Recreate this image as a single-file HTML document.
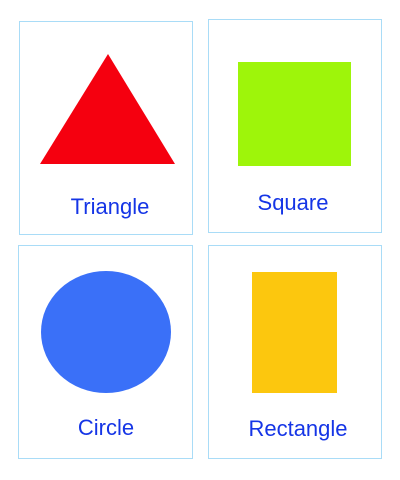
<!DOCTYPE html>
<html><head><meta charset="utf-8"><style>
html,body{margin:0;padding:0;background:#fff;width:400px;height:480px;overflow:hidden}
text{font-family:"Liberation Sans",Arial,sans-serif;font-size:22px;fill:#1535e6}
</style></head><body>
<svg width="400" height="480" viewBox="0 0 400 480">
<g>
<rect x="19.5" y="21.5" width="173" height="213" fill="#fff" stroke="#a9dcf7" stroke-width="1"/>
<polygon points="108,54 40,164 175,164" fill="#f5000f"/>
<text x="110" y="214" text-anchor="middle">Triangle</text>
</g>
<g>
<rect x="208.5" y="19.5" width="173" height="213" fill="#fff" stroke="#a9dcf7" stroke-width="1"/>
<rect x="238" y="62" width="113" height="104" fill="#9ef50a"/>
<text x="293" y="210" text-anchor="middle">Square</text>
</g>
<g>
<rect x="18.5" y="245.5" width="174" height="213" fill="#fff" stroke="#a9dcf7" stroke-width="1"/>
<ellipse cx="106" cy="332" rx="65" ry="61" fill="#3a70f8"/>
<text x="106" y="435" text-anchor="middle">Circle</text>
</g>
<g>
<rect x="208.5" y="245.5" width="173" height="213" fill="#fff" stroke="#a9dcf7" stroke-width="1"/>
<rect x="252" y="272" width="85" height="121" fill="#fcc70e"/>
<text x="298" y="436" text-anchor="middle">Rectangle</text>
</g>
</svg>
</body></html>
